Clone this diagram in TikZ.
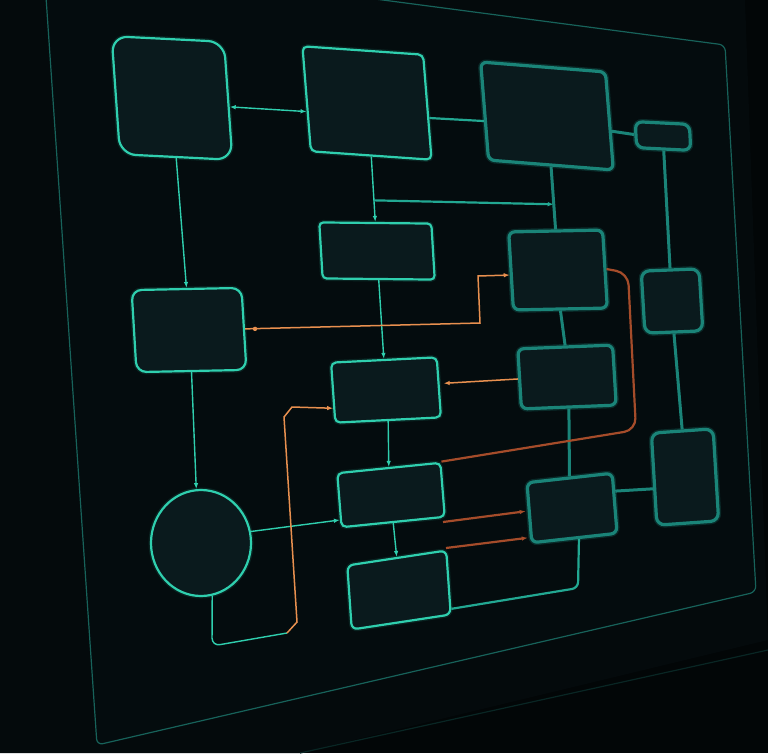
\documentclass[tikz,border=0pt]{standalone}
\usetikzlibrary{arrows.meta,calc,shapes.geometric}
\definecolor{backdrop}{HTML}{020607}
\definecolor{bezel}{HTML}{040A0C}
\definecolor{screen}{HTML}{040C0E}
\definecolor{boxfill}{HTML}{0A1A1D}
\definecolor{tealhi}{HTML}{2FCFAE}
\definecolor{tealmid}{HTML}{22A892}
\definecolor{tealdim}{HTML}{1A8478}
\definecolor{orng}{HTML}{E8904F}
\definecolor{orngdim}{HTML}{A54C2A}
\definecolor{rim}{HTML}{17625A}
\begin{document}
\begin{tikzpicture}[x=1pt,y=-1pt,>={Latex[length=6pt,width=4.5pt]},
box/.style={draw=tealhi,fill=boxfill,line width=2.2pt,inner sep=0pt,preaction={draw=tealhi,line width=5pt,opacity=0.12}},
dimbox/.style={draw=tealdim,fill=boxfill,line width=3.2pt,inner sep=0pt,preaction={draw=tealdim,line width=6pt,opacity=0.25}},
link/.style={tealhi,line width=1.4pt},
midlink/.style={tealmid,line width=2.2pt},
dimlink/.style={tealdim,line width=3pt},
warm/.style={orng,line width=1.5pt},
dimwarm/.style={orngdim,line width=2.2pt}]
\useasboundingbox (0,0) rectangle (768,753);
\fill[backdrop] (0,0) rectangle (768,753);
\fill[bezel] (0,0) -- (745,0) -- (768,640) -- (300,753) -- (0,753) -- cycle;
\draw[rim!35!backdrop,line width=1.2pt] (300,753) -- (768,650);
\filldraw[fill=screen,draw=rim,line width=1.2pt,rounded corners=6pt] (360,-3) -- (725,45) -- (756,592) -- (97,745) -- (46,-3);
\node[box,minimum width=112pt,minimum height=118pt,rounded corners=16pt,xslant=-0.07,yslant=-0.05] (sq) at (172,98) {};
\node[box,minimum width=120pt,minimum height=105pt,rounded corners=5pt,xslant=-0.08,yslant=-0.07] (hub) at (367,103) {};
\node[dimbox,minimum width=124pt,minimum height=98pt,rounded corners=6pt,xslant=-0.08,yslant=-0.08] (wide) at (547,116) {};
\node[dimbox,minimum width=54pt,minimum height=26pt,rounded corners=7pt,xslant=-0.05,yslant=-0.05] (tag) at (663,136) {};
\node[box,minimum width=112pt,minimum height=56pt,rounded corners=4pt,xslant=-0.06,yslant=-0.01] (p1) at (377,251) {};
\node[dimbox,minimum width=94pt,minimum height=78pt,rounded corners=6pt,xslant=-0.06,yslant=0.02] (q1) at (558,270) {};
\node[dimbox,minimum width=58pt,minimum height=62pt,rounded corners=8pt,xslant=-0.06,yslant=0.04] (q2) at (672,301) {};
\node[box,minimum width=110pt,minimum height=82pt,rounded corners=10pt,xslant=-0.06,yslant=0.02] (side) at (189,330) {};
\node[box,minimum width=106pt,minimum height=60pt,rounded corners=5pt,xslant=-0.07,yslant=0.05] (p2) at (386,390) {};
\node[dimbox,minimum width=95pt,minimum height=60pt,rounded corners=6pt,xslant=-0.06,yslant=0.04] (q3) at (567,377) {};
\node[dimbox,minimum width=62pt,minimum height=92pt,rounded corners=8pt,xslant=-0.06,yslant=0.07] (q4) at (685,477) {};
\node[box,minimum width=104pt,minimum height=54pt,rounded corners=5pt,xslant=-0.08,yslant=0.10] (p3) at (391,495) {};
\node[dimbox,minimum width=86pt,minimum height=60pt,rounded corners=6pt,xslant=-0.08,yslant=0.11] (q5) at (572,508) {};
\node[box,minimum width=100pt,minimum height=64pt,rounded corners=6pt,xslant=-0.07,yslant=0.15] (p4) at (399,590) {};
\node[box,ellipse,minimum width=100pt,minimum height=106pt] (ring) at (201,543) {};
\coordinate (bend) at (287,633);
\coordinate (o1) at (443,522);
\coordinate (o2) at (446,548);
\draw[link,<->] ($(sq.north east)!0.55!(sq.south east)$) -- ($(hub.north west)!0.62!(hub.south west)$);
\draw[link,->] (sq.south) -- (side.north);
\draw[link,->] (hub.south) -- (p1.north);
\draw[midlink,->] ($(hub.south)!0.67!(p1.north)$) -- ($(wide.south)!0.6!(q1.north)$);
\draw[midlink] ($(hub.north east)!0.6!(hub.south east)$) -- ($(wide.north west)!0.6!(wide.south west)$);
\draw[dimlink] ($(wide.north east)!0.6!(wide.south east)$) -- (tag.west);
\draw[dimlink] (wide.south) -- (q1.north);
\draw[dimlink] (tag.south) -- (q2.north);
\draw[dimlink] (q1.south) -- (q3.north);
\draw[dimlink] (q3.south) -- (q5.north);
\draw[dimlink] (q2.south) -- (q4.north);
\draw[dimlink] ($(q5.north east)!0.31!(q5.south east)$) -- ($(q4.north west)!0.6!(q4.south west)$);
\draw[link,->] (p1.south) -- (p2.north);
\draw[link,->] (side.south) -- (ring.95);
\draw[link,->] (p2.south) -- (p3.north);
\draw[link,->] (p3.south) -- (p4.north);
\draw[link,->] (ring.13) -- ($(p3.north west)!0.85!(p3.south west)$);
\draw[link,rounded corners=8pt] (ring.-78) -- (212,646) -- (bend);
\draw[warm,->] (bend) -- (297,622) -- (284,417) -- (292,407) -- ($(p2.north west)!0.75!(p2.south west)$);
\draw[warm,->] (side.east) -- (480,323) -- (478,276) -- ($(q1.north west)!0.55!(q1.south west)$);
\fill[orng] (side.east) ++(10,0) circle[radius=2.2pt];
\draw[warm,->,shorten >=4pt] (q3.west) -- ($(p2.north east)!0.44!(p2.south east)$);
\draw[dimwarm,rounded corners=12pt] (q1.east) -- (628,273) -- (636,430) -- (p3.north east);
\draw[dimwarm,->,shorten >=2pt] (o1) -- ($(q5.north west)!0.47!(q5.south west)$);
\draw[dimwarm,->,shorten >=2pt] (o2) -- ($(q5.north west)!0.89!(q5.south west)$);
\draw[midlink,rounded corners=6pt] ($(p4.north east)!0.9!(p4.south east)$) -- (578,588) -- ($(q5.south west)!0.55!(q5.south east)$);
\end{tikzpicture}
\end{document}
